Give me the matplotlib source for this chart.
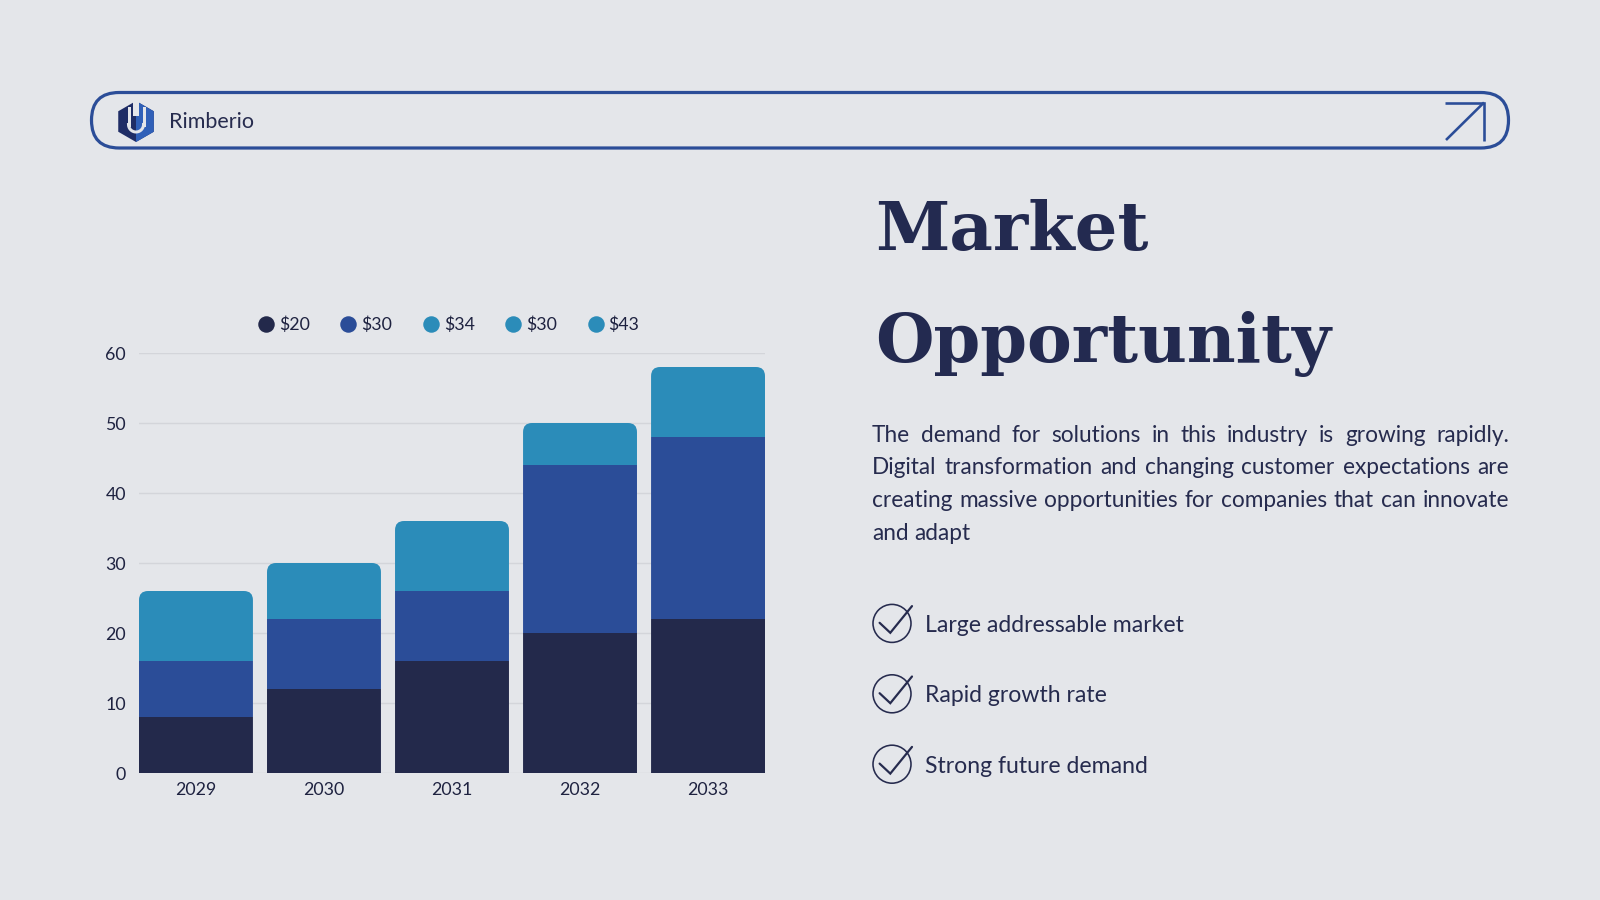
import matplotlib
matplotlib.use('Agg')
import matplotlib.pyplot as plt
from matplotlib.patches import FancyBboxPatch, Circle, Polygon
from matplotlib.lines import Line2D
import numpy as np

# ---------------- data ----------------
years = ['2029', '2030', '2031', '2032', '2033']
series_labels = ['$20', '$30', '$34', '$30', '$43']
s1 = [8, 12, 16, 20, 22]
s2 = [8, 10, 10, 24, 26]
s3 = [4, 8, 10, 6, 8]
s4 = [6, 0, 0, 0, 2]
s5 = [0, 0, 0, 0, 0]
yticks = [0, 10, 20, 30, 40, 50, 60]

brand = 'Rimberio'
title_lines = ['Market', 'Opportunity']
paragraph_lines = [
    'The demand for solutions in this industry is growing rapidly.',
    'Digital transformation and changing customer expectations are',
    'creating massive opportunities for companies that can innovate',
    'and adapt',
]
checklist = ['Large addressable market', 'Rapid growth rate', 'Strong future demand']

# ---------------- style ----------------
BG = '#E4E6EA'
NAVY = '#23294B'
BLUE = '#2B4D98'
TEAL = '#2B8CB9'
TXT = '#262B4E'
GRID = '#D3D5DA'
colors = [NAVY, BLUE, TEAL, TEAL, TEAL]
SANS = ['Lato', 'DejaVu Sans']
SERIF = ['DejaVu Serif']

W, H = 1600, 900
fig = plt.figure(figsize=(16, 9), dpi=100, facecolor=BG)
renderer = fig.canvas.get_renderer()

def px2pt(px):
    return px * 72.0 / 100.0

def text_w(s, fs, family, weight='normal'):
    t = fig.text(0, 0, s, fontsize=fs, family=family, weight=weight)
    w = t.get_window_extent(renderer).width
    t.remove()
    return w

def fit_fs(s, family, target, weight='normal', base=20.0):
    return base * target / text_w(s, base, family, weight)

# overlay in pixel coordinates (y down)
ov = fig.add_axes([0, 0, 1, 1], zorder=0)
ov.set_xlim(0, W)
ov.set_ylim(H, 0)
ov.axis('off')

# ---------------- header ----------------
pill = FancyBboxPatch((91.5, 92.5), 1417, 55.5, boxstyle='round,pad=0,rounding_size=27.7',
                      fill=False, edgecolor=BLUE, linewidth=px2pt(3.2))
ov.add_patch(pill)
ov.plot([1445, 1484, 1484], [102.5, 102.5, 141], color=BLUE, lw=px2pt(2.6),
        solid_joinstyle='miter', solid_capstyle='butt')
ov.plot([1484, 1446], [102.5, 140], color=BLUE, lw=px2pt(2.6), solid_capstyle='butt')

# logo
cx, cy, rx, ry = 136, 121.5, 20.5, 20.5
ang = np.deg2rad([90, 30, -30, -90, -150, 150])
hx = cx + rx * np.cos(ang)
hy = cy - ry * np.sin(ang)
ov.add_patch(Polygon(np.column_stack([hx, hy]), closed=True, color='#1F2D66', lw=0))
ov.add_patch(Polygon([[cx, hy[0]], [hx[1], hy[1]], [hx[2], hy[2]], [cx, hy[3]]],
                     closed=True, color='#3060B8', lw=0))
ov.plot([cx - 7.5, cx - 7.5], [cy - 14, cy + 3], color=BG, lw=px2pt(3))
ov.plot([cx + 7.5, cx + 7.5], [cy - 14, cy + 3], color=BG, lw=px2pt(3))
tt = np.linspace(np.pi, 2 * np.pi, 30)
ov.plot(cx + 7.5 * np.cos(tt), cy + 3 - 7.5 * np.sin(tt), color=BG, lw=px2pt(3))
ov.add_patch(Polygon([[cx - 3, hy[0] - 1], [cx + 3, hy[0] - 1], [cx + 3, cy - 6], [cx - 3, cy - 6]],
                     closed=True, color=BG, lw=0))

fs_brand = fit_fs(brand, SANS, 85)
ov.text(169, 128.3, brand, fontsize=fs_brand, family=SANS, color=TXT, va='baseline', ha='left')

# ---------------- title ----------------
fs_title = fit_fs(title_lines[1], SERIF, 457, weight='bold')
ov.text(875, 250, title_lines[0], fontsize=fs_title, family=SERIF, weight='bold',
        color='#232A50', va='baseline', ha='left')
ov.text(875, 361.7, title_lines[1], fontsize=fs_title, family=SERIF, weight='bold',
        color='#232A50', va='baseline', ha='left')

# ---------------- paragraph (justified) ----------------
PL, PR = 872, 1509
fs_par = fit_fs(paragraph_lines[2], SANS, 632)
space_w = text_w('a b', fs_par, SANS) - text_w('ab', fs_par, SANS)
for i, line in enumerate(paragraph_lines):
    yb = 441.5 + 32.8 * i
    words = line.split()
    widths = [text_w(w_, fs_par, SANS) for w_ in words]
    if i < len(paragraph_lines) - 1 and len(words) > 1:
        gap = (PR - PL - sum(widths)) / (len(words) - 1)
    else:
        gap = space_w
    xx = PL
    for w_, ww in zip(words, widths):
        ov.text(xx, yb, w_, fontsize=fs_par, family=SANS, color=TXT, va='baseline', ha='left')
        xx += ww + gap

# ---------------- checklist ----------------
fs_chk = fit_fs(checklist[0], SANS, 259)
for i, item in enumerate(checklist):
    ccx, ccy = 892, 623.4 + 70.4 * i
    ov.add_patch(Circle((ccx, ccy), 19, fill=False, edgecolor=TXT, lw=px2pt(1.6)))
    ov.plot([ccx - 12.4, ccx - 1.7, ccx + 20], [ccy - 0.6, ccy + 9.4, ccy - 17.3],
            color=TXT, lw=px2pt(2.2), solid_capstyle='round', solid_joinstyle='miter')
    ov.text(925, ccy + 8.4, item, fontsize=fs_chk, family=SANS, color=TXT,
            va='baseline', ha='left')

# ---------------- chart ----------------
ax = fig.add_axes([139 / W, 127 / H, 626 / W, 420 / H], zorder=1)
ax.set_facecolor('none')
x = np.arange(len(years))
series = [s1, s2, s3, s4, s5]
bw = 0.89
bottom = np.zeros(len(years))
containers = []
for vals, c, lab in zip(series, colors, series_labels):
    b = ax.bar(x, vals, width=bw, bottom=bottom, color=c, label=lab, linewidth=0, zorder=2)
    containers.append(b)
    bottom = bottom + np.array(vals)
totals = bottom
ax.set_xlim(-bw / 2, len(years) - 1 + bw / 2)
ax.set_ylim(0, 60)

# rounded tops via clip paths
px_x = 626 / (len(years) - 1 + bw)
px_y = 420 / 60.0
r_px = 9.0
for i in range(len(years)):
    clip = FancyBboxPatch((x[i] - bw / 2, -10), bw, totals[i] + 10,
                          boxstyle=f'round,pad=0,rounding_size={r_px / px_x}',
                          mutation_aspect=px_x / px_y, transform=ax.transData)
    for b in containers:
        b.patches[i].set_clip_path(clip)

ax.set_yticks(yticks)
ax.set_xticks(x)
ax.set_xticklabels(years)
ax.grid(axis='y', color=GRID, lw=1.0, zorder=0)
ax.set_axisbelow(True)
for s in ax.spines.values():
    s.set_visible(False)
ax.tick_params(axis='both', length=0, labelsize=12.8, labelcolor='#1E2240')
ax.tick_params(axis='y', pad=9.5)
ax.tick_params(axis='x', pad=6.5)
for lab in ax.get_xticklabels() + ax.get_yticklabels():
    lab.set_family(SANS)

handles = [Line2D([], [], marker='o', ls='none', markersize=px2pt(16.5), markerfacecolor=c,
                  markeredgewidth=0) for c in colors]
leg = fig.legend(handles, series_labels, loc='center', bbox_to_anchor=(449 / W, 1 - 325 / H),
                 ncol=5, frameon=False, handlelength=0.85, handletextpad=0.3,
                 columnspacing=1.75, prop={'family': SANS, 'size': 12.8})
for t in leg.get_texts():
    t.set_color('#1E2240')

fig.savefig('out.png', dpi=100, facecolor=BG)
